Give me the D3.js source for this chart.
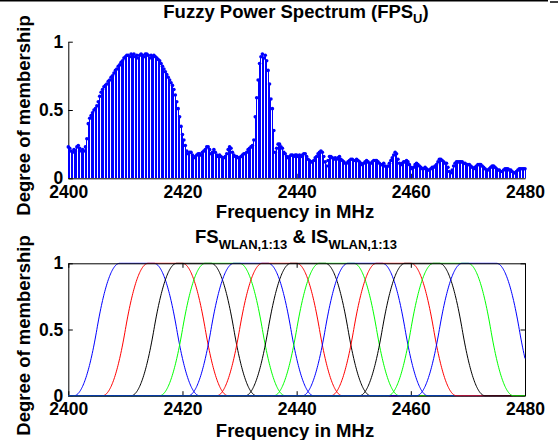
<!DOCTYPE html>
<html>
<head>
<meta charset="utf-8">
<script src="https://cdn.jsdelivr.net/npm/d3@7"></script>
<style>
  body { margin: 0; background: #fff; }
  svg { display: block; }
  text { font-family: "Liberation Sans", Arial, Helvetica, sans-serif; font-weight: bold; fill: #000; }
</style>
</head>
<body>
<div id="chart"></div>
<script>
'use strict'

////////////////////////////////////
/////////////// data ///////////////
////////////////////////////////////

// fuzzy power spectrum: one value every 0.25 MHz, 2400 .. 2480
const fpsStart = 2400
const fpsStep = 0.25
const fpsValues = [
    0.23, 0.22, 0.20, 0.19, 0.21, 0.20, 0.23, 0.24, 0.22, 0.20, 0.21, 0.20, 0.23, 0.29, 0.40, 0.44, 0.46, 0.48, 0.50, 0.51,
    0.53, 0.56, 0.60, 0.63, 0.65, 0.67, 0.68, 0.69, 0.71, 0.72, 0.74, 0.75, 0.77, 0.79, 0.80, 0.82, 0.83, 0.85, 0.86, 0.88,
    0.89, 0.90, 0.90, 0.89, 0.91, 0.90, 0.91, 0.89, 0.90, 0.88, 0.90, 0.91, 0.90, 0.89, 0.91, 0.91, 0.90, 0.88, 0.90, 0.89,
    0.90, 0.89, 0.88, 0.87, 0.86, 0.84, 0.82, 0.80, 0.78, 0.76, 0.74, 0.72, 0.70, 0.68, 0.65, 0.61, 0.56, 0.51, 0.45, 0.38,
    0.32, 0.28, 0.24, 0.20, 0.18, 0.19, 0.19, 0.17, 0.15, 0.16, 0.17, 0.18, 0.18, 0.17, 0.19, 0.20, 0.21, 0.23, 0.23, 0.21,
    0.18, 0.19, 0.21, 0.19, 0.17, 0.16, 0.17, 0.16, 0.15, 0.15, 0.16, 0.18, 0.21, 0.23, 0.22, 0.19, 0.17, 0.16, 0.16, 0.15,
    0.15, 0.16, 0.17, 0.18, 0.18, 0.19, 0.21, 0.22, 0.23, 0.24, 0.28, 0.45, 0.59, 0.72, 0.84, 0.89, 0.91, 0.88, 0.90, 0.86,
    0.79, 0.69, 0.58, 0.51, 0.35, 0.19, 0.22, 0.25, 0.25, 0.23, 0.22, 0.19, 0.18, 0.16, 0.15, 0.16, 0.17, 0.17, 0.16, 0.17,
    0.17, 0.16, 0.17, 0.16, 0.17, 0.18, 0.18, 0.16, 0.14, 0.13, 0.12, 0.12, 0.13, 0.15, 0.16, 0.18, 0.19, 0.20, 0.19, 0.16,
    0.12, 0.09, 0.13, 0.16, 0.16, 0.15, 0.14, 0.15, 0.14, 0.15, 0.16, 0.14, 0.13, 0.12, 0.11, 0.11, 0.12, 0.13, 0.14, 0.14,
    0.13, 0.13, 0.14, 0.13, 0.12, 0.11, 0.10, 0.11, 0.12, 0.13, 0.12, 0.11, 0.11, 0.12, 0.13, 0.13, 0.13, 0.12, 0.11, 0.10,
    0.10, 0.11, 0.09, 0.08, 0.09, 0.11, 0.13, 0.15, 0.17, 0.19, 0.18, 0.14, 0.11, 0.10, 0.11, 0.12, 0.12, 0.13, 0.12, 0.10,
    0.08, 0.07, 0.08, 0.10, 0.11, 0.10, 0.09, 0.08, 0.07, 0.07, 0.08, 0.07, 0.06, 0.06, 0.07, 0.08, 0.08, 0.09, 0.10, 0.12,
    0.14, 0.14, 0.13, 0.12, 0.11, 0.11, 0.08, 0.05, 0.04, 0.06, 0.09, 0.11, 0.12, 0.12, 0.12, 0.12, 0.12, 0.11, 0.11, 0.10,
    0.10, 0.10, 0.09, 0.08, 0.07, 0.08, 0.09, 0.10, 0.10, 0.10, 0.09, 0.08, 0.07, 0.06, 0.06, 0.07, 0.08, 0.09, 0.09, 0.08,
    0.07, 0.06, 0.06, 0.05, 0.05, 0.06, 0.07, 0.07, 0.07, 0.06, 0.06, 0.05, 0.04, 0.04, 0.05, 0.06, 0.07, 0.07, 0.07, 0.07,
    0.07
]

// WLAN channels 1..13, centre frequency in MHz
const wlanCentres = [2412, 2417, 2422, 2427, 2432, 2437, 2442, 2447, 2452, 2457, 2462, 2467, 2472]
const wlanColors = ['#0000ff', '#ff0000', '#000000', '#00ff00']
// pi shaped set: flat half width and support half width (MHz)
const wlanFlat = 3
const wlanSupport = 11

const xTicks = [2400, 2420, 2440, 2460, 2480]
const yTicks = [0, 0.5, 1]

////////////////////////////////////
//////////// svg setup /////////////
////////////////////////////////////

const svgWidth = 558
const svgHeight = 440

const svg = d3.select('#chart')
    .append('svg')
    .attr('width', svgWidth)
    .attr('height', svgHeight)

// figure frame remnant along the top edge
svg.append('line').attr('x1', 0).attr('x2', 548).attr('y1', 0.75).attr('y2', 0.75)
    .attr('stroke', '#000').attr('stroke-width', 1.5)
svg.append('line').attr('x1', 550).attr('x2', 558).attr('y1', 2).attr('y2', 2)
    .attr('stroke', '#000').attr('stroke-width', 1.5)

const x = d3.scaleLinear().domain([2400, 2480]).range([68.3, 525])
const yTop = d3.scaleLinear().domain([0, 1]).range([178.3, 41.7])
const yBot = d3.scaleLinear().domain([0, 1]).range([395.7, 263.3])

const tick = 4.5

function styleAxis(g) {
    g.selectAll('path, line').attr('stroke', '#000').attr('stroke-width', 1)
    g.selectAll('text').attr('font-size', 17.5).attr('fill', '#000')
    g.attr('font-family', null)
}

////////////////////////////////////
///////////// top plot /////////////
////////////////////////////////////

const fps = fpsValues.map((v, i) => ({ f: fpsStart + i * fpsStep, v: v }))

svg.append('g')
    .attr('transform', `translate(0,${yTop(0)})`)
    .call(d3.axisBottom(x).tickValues(xTicks).tickSize(-tick).tickSizeOuter(0).tickPadding(7).tickFormat(d3.format('d')))
    .call(styleAxis)

svg.append('g')
    .attr('transform', `translate(${x(2400)},0)`)
    .call(d3.axisLeft(yTop).tickValues(yTicks).tickSize(-tick).tickSizeOuter(0).tickPadding(5).tickFormat(d => d))
    .call(styleAxis)

const stems = svg.append('g')

stems.selectAll('line')
    .data(fps)
    .join('line')
    .attr('x1', d => x(d.f))
    .attr('x2', d => x(d.f))
    .attr('y1', yTop(0))
    .attr('y2', d => yTop(d.v))
    .attr('stroke', '#0000ff')
    .attr('stroke-width', 1)
    .attr('shape-rendering', 'crispEdges')

stems.selectAll('circle')
    .data(fps)
    .join('circle')
    .attr('cx', d => x(d.f))
    .attr('cy', d => yTop(d.v))
    .attr('r', 1.8)
    .attr('fill', '#0000ff')

const title1 = svg.append('text')
    .attr('x', 296).attr('y', 18.3)
    .attr('text-anchor', 'middle')
    .attr('font-size', 18.5)
title1.append('tspan').text('Fuzzy Power Spectrum (FPS')
title1.append('tspan').attr('font-size', 13).attr('dy', 5).text('U')
title1.append('tspan').attr('dy', -5).text(')')

svg.append('text')
    .attr('x', 295).attr('y', 218.3)
    .attr('text-anchor', 'middle')
    .attr('font-size', 18.5)
    .text('Frequency in MHz')

svg.append('text')
    .attr('transform', 'translate(29.5,115.5) rotate(-90)')
    .attr('text-anchor', 'middle')
    .attr('font-size', 18.5)
    .text('Degree of membership')

////////////////////////////////////
/////////// bottom plot ////////////
////////////////////////////////////

svg.append('g')
    .attr('transform', `translate(0,${yBot(0)})`)
    .call(d3.axisBottom(x).tickValues(xTicks).tickSize(-tick).tickSizeOuter(0).tickPadding(7).tickFormat(d3.format('d')))
    .call(styleAxis)

svg.append('g')
    .attr('transform', `translate(${x(2400)},0)`)
    .call(d3.axisLeft(yBot).tickValues(yTicks).tickSize(-tick).tickSizeOuter(0).tickPadding(5).tickFormat(d => d))
    .call(styleAxis)

svg.append('g')
    .attr('transform', `translate(${x(2480)},0)`)
    .call(d3.axisRight(yBot).tickValues(yTicks).tickSize(-tick).tickSizeOuter(0).tickFormat(''))
    .call(styleAxis)

// pi membership function (matlab pimf style)
function pimf(f, c) {
    const a = c - wlanSupport, b = c - wlanFlat, cc = c + wlanFlat, d = c + wlanSupport
    if (f <= a || f >= d) return 0
    if (f < (a + b) / 2) return 2 * Math.pow((f - a) / (b - a), 2)
    if (f < b) return 1 - 2 * Math.pow((f - b) / (b - a), 2)
    if (f <= cc) return 1
    if (f < (cc + d) / 2) return 1 - 2 * Math.pow((f - cc) / (d - cc), 2)
    return 2 * Math.pow((f - d) / (d - cc), 2)
}

const grid = d3.range(2400, 2480.001, 0.1)

const line = d3.line()
    .x(d => x(d[0]))
    .y(d => yBot(d[1]))

svg.append('g')
    .selectAll('path')
    .data(wlanCentres)
    .join('path')
    .attr('d', c => line(grid.map(f => [f, pimf(f, c)])))
    .attr('fill', 'none')
    .attr('stroke', (c, i) => wlanColors[i % wlanColors.length])
    .attr('stroke-width', 1)

// top edge of the box sits over the flat tops
svg.append('g')
    .attr('transform', `translate(0,${yBot(1)})`)
    .call(d3.axisTop(x).tickValues(xTicks).tickSize(-tick).tickSizeOuter(0).tickFormat(''))
    .call(styleAxis)

const title2 = svg.append('text')
    .attr('x', 296).attr('y', 243.3)
    .attr('text-anchor', 'middle')
    .attr('font-size', 18.5)
title2.append('tspan').text('FS')
title2.append('tspan').attr('font-size', 13).attr('dy', 6).text('WLAN,1:13')
title2.append('tspan').attr('dy', -6).text(' & IS')
title2.append('tspan').attr('font-size', 13).attr('dy', 6).text('WLAN,1:13')

svg.append('text')
    .attr('x', 295).attr('y', 436.7)
    .attr('text-anchor', 'middle')
    .attr('font-size', 18.5)
    .text('Frequency in MHz')

svg.append('text')
    .attr('transform', 'translate(29.5,335.5) rotate(-90)')
    .attr('text-anchor', 'middle')
    .attr('font-size', 18.5)
    .text('Degree of membership')
</script>
</body>
</html>
